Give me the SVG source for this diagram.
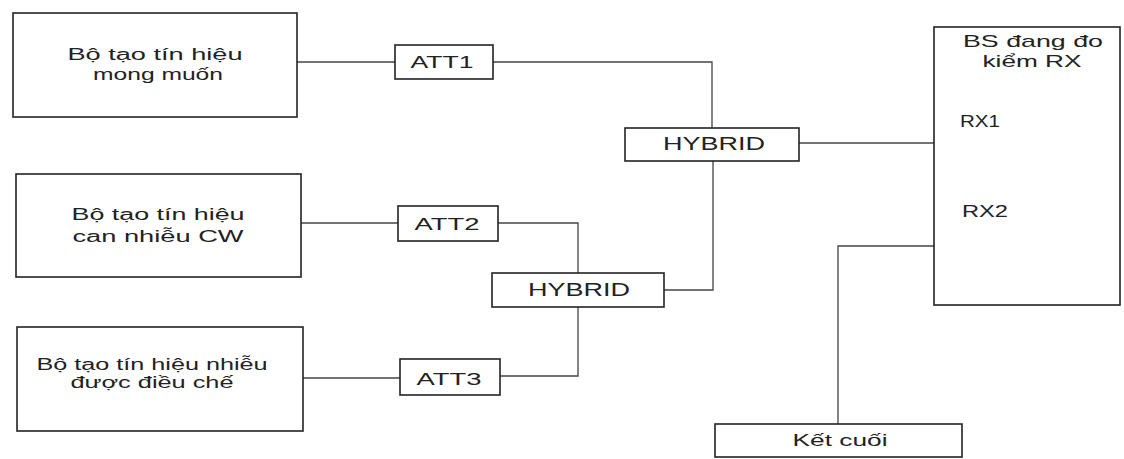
<svg xmlns="http://www.w3.org/2000/svg" width="1124" height="459" viewBox="0 0 1124 459">
<style>
.box{fill:#fff;stroke:#222;stroke-width:1.6}
.wire{fill:none;stroke:#444;stroke-width:1.3}
text{font-family:"Liberation Sans",Arial,sans-serif;font-size:16px;fill:#222;text-anchor:middle}
.big{font-size:18px}
.mid{font-size:17px}
</style>
<rect width="1124" height="459" fill="#fff"/>
<g id="connectors">
<path class="wire" d="M297,62H395"/>
<path class="wire" d="M493,62H712V128"/>
<path class="wire" d="M301,223H398"/>
<path class="wire" d="M498,223H578V273"/>
<path class="wire" d="M303,378H400"/>
<path class="wire" d="M500,376H578V307"/>
<path class="wire" d="M664,290H713V161"/>
<path class="wire" d="M799,143H934"/>
<path class="wire" d="M838,424V246H934"/>
</g>
<g id="gen1">
<rect class="box" x="13" y="13" width="284" height="104" stroke-width="2"/>
<text x="155" y="60" textLength="175" lengthAdjust="spacingAndGlyphs">Bộ tạo tín hiệu</text>
<text x="158" y="80" textLength="130" lengthAdjust="spacingAndGlyphs">mong muốn</text>
</g>
<g id="gen2">
<rect class="box" x="16" y="174" width="285" height="103"/>
<text x="158" y="220" textLength="173" lengthAdjust="spacingAndGlyphs">Bộ tạo tín hiệu</text>
<text x="158" y="242" textLength="171" lengthAdjust="spacingAndGlyphs">can nhiễu CW</text>
</g>
<g id="gen3">
<rect class="box" x="17" y="327" width="286" height="104"/>
<text x="152" y="370" textLength="231" lengthAdjust="spacingAndGlyphs">Bộ tạo tín hiệu nhiễu</text>
<text x="152" y="388" textLength="163" lengthAdjust="spacingAndGlyphs">được điều chế</text>
</g>
<g id="att1">
<rect class="box" x="395" y="45" width="98" height="34"/>
<text class="mid" x="442" y="68" textLength="63" lengthAdjust="spacingAndGlyphs">ATT1</text>
</g>
<g id="att2">
<rect class="box" x="398" y="206" width="100" height="35"/>
<text class="mid" x="447" y="230" textLength="65" lengthAdjust="spacingAndGlyphs">ATT2</text>
</g>
<g id="att3">
<rect class="box" x="400" y="359" width="100" height="36"/>
<text class="mid" x="449" y="385" textLength="65" lengthAdjust="spacingAndGlyphs">ATT3</text>
</g>
<g id="hybrid1">
<rect class="box" x="625" y="128" width="174" height="33"/>
<text class="big" x="714" y="150" textLength="102" lengthAdjust="spacingAndGlyphs">HYBRID</text>
</g>
<g id="hybrid2">
<rect class="box" x="492" y="273" width="172" height="34"/>
<text class="big" x="579" y="296" textLength="102" lengthAdjust="spacingAndGlyphs">HYBRID</text>
</g>
<g id="bs">
<rect class="box" x="934" y="27" width="186" height="278"/>
<text class="mid" x="1033" y="47" textLength="140" lengthAdjust="spacingAndGlyphs">BS đang đo</text>
<text class="mid" x="1032" y="67" textLength="99" lengthAdjust="spacingAndGlyphs">kiểm RX</text>
<text class="mid" x="980" y="127" textLength="40" lengthAdjust="spacingAndGlyphs">RX1</text>
<text class="mid" x="985" y="217" textLength="46" lengthAdjust="spacingAndGlyphs">RX2</text>
</g>
<g id="ketcuoi">
<rect class="box" x="715" y="424" width="247" height="33"/>
<text class="mid" x="840" y="446" textLength="95" lengthAdjust="spacingAndGlyphs">Kết cuối</text>
</g>
</svg>
